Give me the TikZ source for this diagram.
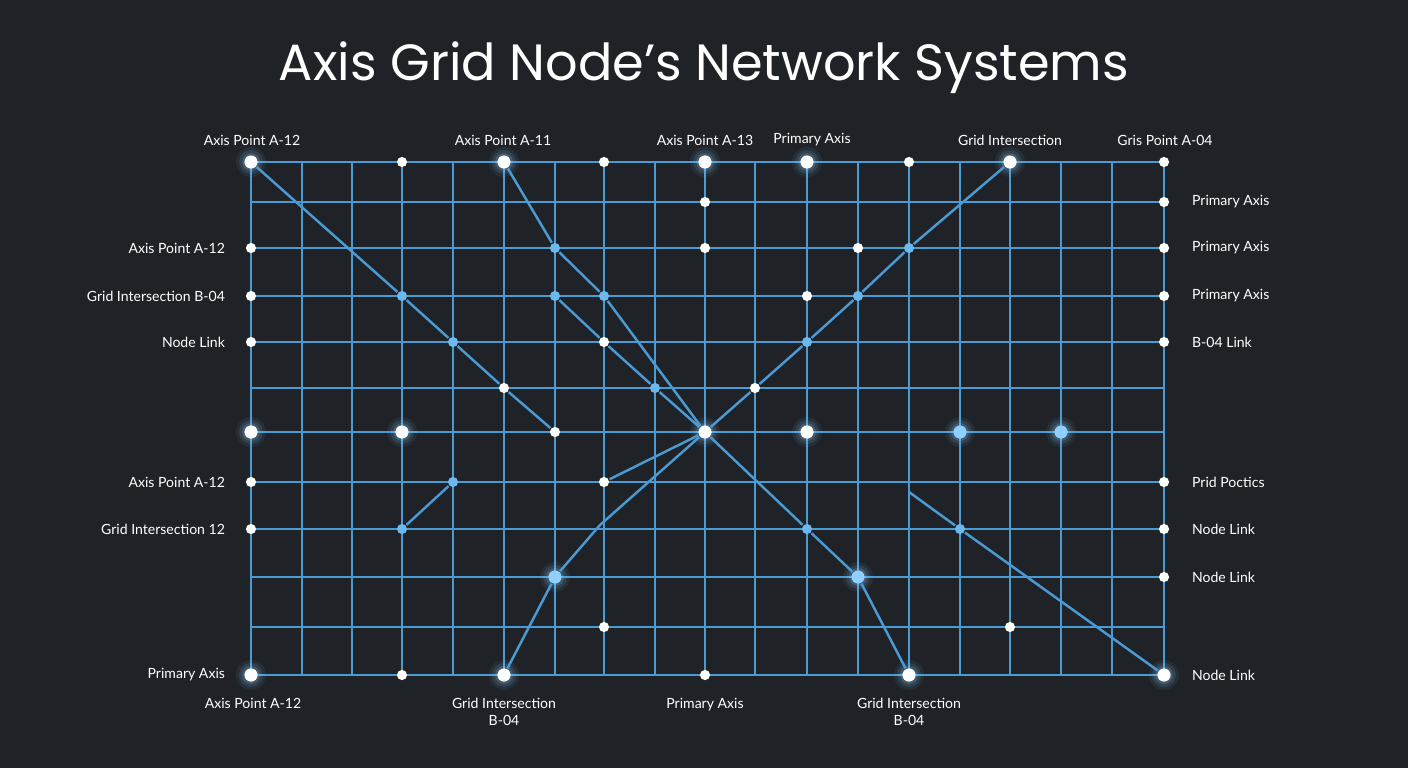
\documentclass[tikz,border=0pt]{standalone}
\usepackage{fontspec}
\setmainfont{Lato}
\newfontfamily\titlefont{Poppins}
\usetikzlibrary{positioning}
\definecolor{bgdark}{HTML}{1F2227}
\definecolor{gridblue}{HTML}{4A9AD4}
\definecolor{dotblue}{HTML}{6BB8EE}
\definecolor{glowblue}{HTML}{8FD0FF}
\begin{document}
\begin{tikzpicture}[x=0.02cm, y=-0.02cm, line width=1.2pt,
	grid/.style={draw=gridblue, line width=1.1pt},
	link/.style={draw=gridblue, line width=1.4pt},
	dot/.style={circle, fill=white, inner sep=0pt, minimum size=5.8pt},
	bluedot/.style={circle, fill=dotblue, inner sep=0pt, minimum size=5.8pt},
	bigdot/.style={circle, fill=white, inner sep=0pt, minimum size=7.5pt},
	bigblue/.style={circle, fill=glowblue, inner sep=0pt, minimum size=7.5pt},
	lbl/.style={text=white, font=\fontsize{8}{9.5}\selectfont, inner sep=0pt, align=center}]

	\fill[bgdark] (0,0) rectangle (1408,768);

	\node[text=white, font=\titlefont\fontsize{29}{32}\selectfont] (title) at (704,68) {Axis Grid Node’s Network Systems};

	% grid
	\foreach \gx in {251,302,352,402,453,504,555,604,655,705,755,807,858,909,960,1010,1061,1112,1164}
		\draw[grid] (\gx,162) -- (\gx,675);
	\foreach \gy in {162,202,248,296,342,388,432,482,529,577,627,675}
		\draw[grid] (251,\gy) -- (1164,\gy);

	% glow behind the big dots
	\foreach \gx/\gy in {251/162,504/162,705/162,807/162,1010/162,251/432,402/432,705/432,807/432,960/432,1061/432,555/577,858/577,251/675,504/675,909/675,1164/675}
		\foreach \r/\o in {15/0.07,12/0.12,9/0.18}
			\fill[glowblue, opacity=\o] (\gx,\gy) circle (\r);

	% dots
	\foreach \gx/\gy in {402/162,604/162,909/162,1164/162,705/202,1164/202,251/248,705/248,858/248,1164/248,251/296,807/296,1164/296,251/342,604/342,1164/342,504/388,755/388,555/432,251/482,604/482,1164/482,251/529,1164/529,1164/577,604/627,1010/627,402/675,705/675}
		\node[dot] (n\gx-\gy) at (\gx,\gy) {};
	\foreach \gx/\gy in {555/248,909/248,402/296,555/296,604/296,858/296,453/342,807/342,655/388,453/482,402/529,807/529,960/529}
		\node[bluedot] (n\gx-\gy) at (\gx,\gy) {};
	\foreach \gx/\gy in {251/162,504/162,705/162,807/162,1010/162,251/432,402/432,705/432,807/432,251/675,504/675,909/675,1164/675}
		\node[bigdot] (n\gx-\gy) at (\gx,\gy) {};
	\foreach \gx/\gy in {960/432,1061/432,555/577,858/577}
		\node[bigblue] (n\gx-\gy) at (\gx,\gy) {};
	\coordinate (bend) at (600,525);
	\coordinate (start) at (909,492);

	% links
	\draw[link] (n251-162) -- (n402-296) -- (n453-342) -- (n504-388) -- (n555-432);
	\draw[link] (n504-162) -- (n555-248) -- (n604-296) -- (n705-432);
	\draw[link] (n555-296) -- (n604-342) -- (n655-388) -- (n705-432);
	\draw[link] (n1010-162) -- (n909-248) -- (n858-296) -- (n807-342) -- (n755-388) -- (n705-432);
	\draw[link] (n705-432) -- (n807-529) -- (n858-577) -- (n909-675);
	\draw[link] (n705-432) -- (n604-482);
	\draw[link] (n705-432) -- (bend) -- (n555-577) -- (n504-675);
	\draw[link] (n402-529) -- (n453-482);
	\draw[link] (start) -- (n960-529) -- (n1164-675);

	% top labels
	\node[lbl] (t1) at (252,140) {Axis Point A-12};
	\node[lbl] (t2) at (503,140) {Axis Point A-11};
	\node[lbl] (t3) at (705,140) {Axis Point A-13};
	\node[lbl] (t4) at (812,140) {Primary Axis};
	\node[lbl] (t5) at (1010,140) {Grid Intersection};
	\node[lbl] (t6) at (1165,140) {Gris Point A-04};

	% left labels
	\foreach \gy/\txt in {248/Axis Point A-12,296/Grid Intersection B-04,342/Node Link,482/Axis Point A-12,529/Grid Intersection 12,675/Primary Axis}
		\node[lbl, anchor=east] (l\gy) at (226,\gy) {\txt};

	% right labels
	\foreach \gy/\txt in {202/Primary Axis,248/Primary Axis,296/Primary Axis,342/B-04 Link,482/Prid Poctics,529/Node Link,577/Node Link,675/Node Link}
		\node[lbl, anchor=west] (r\gy) at (1191,\gy) {\txt};

	% bottom labels
	\node[lbl, anchor=north] (b1) at (253,697) {Axis Point A-12};
	\node[lbl, anchor=north] (b2) at (504,697) {Grid Intersection\\B-04};
	\node[lbl, anchor=north] (b3) at (705,697) {Primary Axis};
	\node[lbl, anchor=north] (b4) at (909,697) {Grid Intersection\\B-04};
\end{tikzpicture}
\end{document}
